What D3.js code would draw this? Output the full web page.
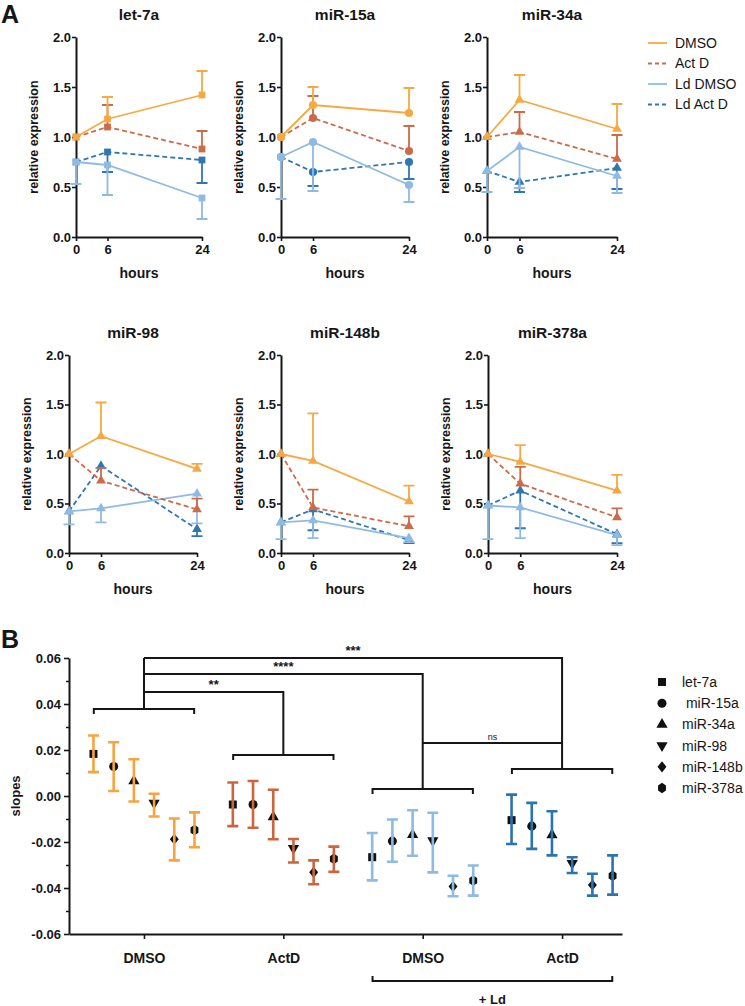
<!DOCTYPE html>
<html><head><meta charset="utf-8">
<script src="https://cdn.jsdelivr.net/npm/d3@7"></script>
<style>body{margin:0;background:#fff} svg{display:block;font-family:"Liberation Sans",Arial,Helvetica,sans-serif}</style>
</head><body><svg id="chart" width="745" height="1006"></svg>
<script>
// ---------------- DATA ----------------
const hours = [0, 6, 24];
const mirnas = ["let-7a", "miR-15a", "miR-34a", "miR-98", "miR-148b", "miR-378a"];
const seriesNames = ["DMSO", "Act D", "Ld DMSO", "Ld Act D"];
const yTicksA = [0, 0.5, 1.0, 1.5, 2.0];

// Panel A means (rows = miRNAs, cols = hours)
const dmsoMean = [[1.00,1.18,1.42],[1.00,1.32,1.24],[1.00,1.37,1.08],[1.00,1.18,0.85],[1.00,0.93,0.52],[1.00,0.92,0.63]];
const dmsoErr  = [[null,1.40,1.66],[null,1.50,1.49],[null,1.62,1.33],[null,1.52,0.90],[null,1.41,0.68],[null,1.09,0.79]];
const actdMean = [[1.00,1.10,0.88],[1.00,1.19,0.86],[1.00,1.05,0.78],[1.00,0.73,0.44],[1.00,0.46,0.27],[1.00,0.70,0.36]];
const actdErr  = [[null,1.32,1.06],[null,1.41,1.11],[null,1.25,1.02],[null,0.86,0.55],[null,0.64,0.37],[null,0.87,0.45]];
const ldDmsoMean = [[0.75,0.72,0.39],[0.80,0.95,0.52],[0.66,0.90,0.61],[0.42,0.45,0.60],[0.31,0.33,0.15],[0.48,0.46,0.18]];
const ldDmsoErr  = [[0.53,0.42,0.18],[0.38,0.46,0.35],[0.45,0.49,0.44],[0.29,0.31,0.30],[0.14,0.15,0.11],[0.14,0.15,0.08]];
const ldActdMean = [[0.75,0.85,0.77],[0.80,0.65,0.75],[0.66,0.55,0.69],[0.42,0.88,0.24],[0.31,0.44,0.13],[0.48,0.63,0.19]];
const ldActdErr  = [[null,0.65,0.54],[null,0.51,0.58],[null,0.45,0.48],[null,null,0.17],[null,0.23,0.10],[null,0.25,0.10]];

// Panel B
const groups = ["DMSO", "ActD", "DMSO", "ActD"];
const yTicksB = [-0.06, -0.04, -0.02, 0.00, 0.02, 0.04, 0.06];
const yMinorB = [-0.05, -0.03, -0.01, 0.01, 0.03, 0.05];
const slopeMean = [
  [0.0183, 0.0128, 0.0065, -0.0030, -0.0188, -0.0148],
  [-0.0037, -0.0037, -0.0091, -0.0227, -0.0332, -0.0273],
  [-0.0266, -0.0196, -0.0168, -0.0194, -0.0393, -0.0368],
  [-0.0105, -0.0131, -0.0170, -0.0292, -0.0387, -0.0347]
];
const slopeLow = [
  [0.0104, 0.0022, -0.0024, -0.0089, -0.0280, -0.0223],
  [-0.0131, -0.0138, -0.0188, -0.0289, -0.0384, -0.0330],
  [-0.0367, -0.0286, -0.0260, -0.0332, -0.0436, -0.0433],
  [-0.0209, -0.0230, -0.0258, -0.0335, -0.0433, -0.0429]
];
const slopeHigh = [
  [0.0263, 0.0234, 0.0160, 0.0010, -0.0098, -0.0071],
  [0.0059, 0.0065, 0.0027, -0.0187, -0.0280, -0.0220],
  [-0.0161, -0.0102, -0.0062, -0.0073, -0.0347, -0.0302],
  [0.0006, -0.0030, -0.0066, -0.0266, -0.0338, -0.0258]
];
const groupBracketLevel = [0.0378, 0.0178, 0.0030, 0.0117];
const comparisonTarget = [1, 2, 3];
const comparisonLevel = [0.0452, 0.0530, 0.0600];
const comparisonLabel = ["**", "****", "***"];
const nsLevel = 0.0230;

// ---------------- STYLE ----------------
const colA = ["#F6A943", "#CC6B47", "#8FBBE2", "#2F77B2"];
const colB = ["#F5A440", "#C9663F", "#8CBBE3", "#2C74AF"];
const ink = "#161616";
const svg = d3.select("#chart");

// ---------------- PANEL A ----------------
svg.append("text").attr("x", 1).attr("y", 23).attr("font-size", 25).attr("font-weight", "bold").attr("fill", ink).text("A");

const layoutA = [
  {L: 76, T: 37, B: 237, W: 126}, {L: 281, T: 37, B: 237, W: 128}, {L: 487, T: 37, B: 237, W: 130},
  {L: 69, T: 355, B: 553, W: 128}, {L: 281, T: 355, B: 553, W: 128}, {L: 488, T: 355, B: 553, W: 129}
];
const symA = [d3.symbolSquare, d3.symbolCircle, d3.symbolTriangle, d3.symbolTriangle, d3.symbolTriangle, d3.symbolTriangle];
const symSizeA = [46, 52, 42, 42, 42, 42];
const means = [dmsoMean, actdMean, ldDmsoMean, ldActdMean];
const errs = [dmsoErr, actdErr, ldDmsoErr, ldActdErr];
const dashes = [null, "5,3", null, "5,3"];
const drawOrder = [3, 2, 1, 0];

mirnas.forEach((m, i) => {
  const lay = layoutA[i];
  const x = d3.scaleLinear().domain([0, 24]).range([lay.L, lay.L + lay.W]);
  const y = d3.scaleLinear().domain([0, 2]).range([lay.B, lay.T]);
  const g = svg.append("g");

  g.append("text").attr("x", (lay.L + lay.L + lay.W) / 2).attr("y", lay.T - 17)
    .attr("text-anchor", "middle").attr("font-size", 15.5).attr("font-weight", "bold").attr("fill", ink).text(m);

  const ya = g.append("g").attr("transform", `translate(${lay.L},0)`)
    .call(d3.axisLeft(y).tickValues(yTicksA).tickFormat(d3.format(".1f")).tickSize(4).tickSizeOuter(0).tickPadding(1));
  const xa = g.append("g").attr("transform", `translate(0,${lay.B})`)
    .call(d3.axisBottom(x).tickValues(hours).tickSize(4).tickSizeOuter(0).tickPadding(4));
  [ya, xa].forEach(a => {
    a.select(".domain").attr("stroke", ink).attr("stroke-width", 2);
    a.selectAll(".tick line").attr("stroke", ink).attr("stroke-width", 1.6);
    a.selectAll(".tick text").attr("font-size", 13).attr("font-weight", "bold").attr("fill", ink).attr("font-family", null);
  });
  g.append("text").attr("transform", `translate(${lay.L - 38},${(lay.T + lay.B) / 2}) rotate(-90)`)
    .attr("text-anchor", "middle").attr("font-size", 12.5).attr("font-weight", "bold").attr("fill", ink).text("relative expression");
  g.append("text").attr("x", x(12)).attr("y", lay.B + 41)
    .attr("text-anchor", "middle").attr("font-size", 14).attr("font-weight", "bold").attr("fill", ink).text("hours");

  drawOrder.forEach(s => {
    const pts = hours.map((h, k) => ({h, v: means[s][i][k], e: errs[s][i][k]}));
    const sg = g.append("g");
    sg.append("path").datum(pts)
      .attr("d", d3.line().x(d => x(d.h)).y(d => y(d.v)))
      .attr("fill", "none").attr("stroke", colA[s]).attr("stroke-width", 1.8)
      .attr("stroke-dasharray", dashes[s]);
    const eb = pts.filter(d => d.e != null);
    sg.selectAll(".eb").data(eb).enter().append("path")
      .attr("d", d => `M${x(d.h)},${y(d.v)}V${y(d.e)}M${x(d.h) - 5.5},${y(d.e)}H${x(d.h) + 5.5}`)
      .attr("fill", "none").attr("stroke", colA[s]).attr("stroke-width", 1.8);
    sg.selectAll(".pt").data(pts).enter().append("path")
      .attr("transform", d => `translate(${x(d.h)},${y(d.v)})`)
      .attr("d", d3.symbol().type(symA[i]).size(symSizeA[i])())
      .attr("fill", colA[s]);
  });
});

// legend A
seriesNames.forEach((n, k) => {
  const yy = 43 + k * 20.5;
  svg.append("line").attr("x1", 648).attr("x2", 667).attr("y1", yy).attr("y2", yy)
    .attr("stroke", colA[k]).attr("stroke-width", 1.8).attr("stroke-dasharray", dashes[k] ? "4,3" : null);
  svg.append("text").attr("x", 675).attr("y", yy).attr("dy", "0.35em").attr("font-size", 14).attr("fill", ink).text(n);
});

// ---------------- PANEL B ----------------
svg.append("text").attr("x", 1).attr("y", 648).attr("font-size", 25).attr("font-weight", "bold").attr("fill", ink).text("B");

const xB = d3.scaleLinear().domain([-0.538, 3.43]).range([69, 622]);
const yB = d3.scaleLinear().domain([-0.06, 0.06]).range([934, 658]);
const off = 0.145;
const half = 0.36;

const gB = svg.append("g");
const yaB = gB.append("g").attr("transform", "translate(69,0)")
  .call(d3.axisLeft(yB).tickValues(yTicksB).tickFormat(d => d.toFixed(2)).tickSize(5).tickSizeOuter(0).tickPadding(3));
gB.append("g").attr("transform", "translate(69,0)")
  .call(d3.axisLeft(yB).tickValues(yMinorB).tickFormat("").tickSize(3).tickSizeOuter(0))
  .call(a => a.select(".domain").remove())
  .selectAll(".tick line").attr("stroke", ink).attr("stroke-width", 1.5);
const xaB = gB.append("g").attr("transform", "translate(0,934)")
  .call(d3.axisBottom(xB).tickValues([0, 1, 2, 3]).tickFormat(d => groups[d]).tickSize(5).tickSizeOuter(0).tickPadding(14));
[yaB, xaB].forEach(a => {
  a.select(".domain").attr("stroke", ink).attr("stroke-width", 2);
  a.selectAll(".tick line").attr("stroke", ink).attr("stroke-width", 1.6);
  a.selectAll(".tick text").attr("font-size", 13).attr("font-weight", "bold").attr("fill", ink).attr("font-family", null);
});
xaB.selectAll(".tick text").attr("font-size", 14);
gB.append("text").attr("transform", `translate(20,${yB(0)}) rotate(-90)`)
  .attr("text-anchor", "middle").attr("font-size", 13).attr("font-weight", "bold").attr("fill", ink).text("slopes");

// +Ld bracket
gB.append("path")
  .attr("d", `M${xB(2 - half)},976V981H${xB(3 + half)}V976`)
  .attr("fill", "none").attr("stroke", ink).attr("stroke-width", 2);
gB.append("text").attr("x", (xB(2 - half) + xB(3 + half)) / 2).attr("y", 1004)
  .attr("text-anchor", "middle").attr("font-size", 13).attr("font-weight", "bold").attr("fill", ink).text("+ Ld");

// markers
const hexagon = {
  draw(ctx, size) {
    const r = Math.sqrt(size / 2.6);
    for (let k = 0; k < 6; k++) {
      const a = -Math.PI / 2 + k * Math.PI / 3;
      const px = Math.cos(a) * r * 0.88, py = Math.sin(a) * r;
      if (k === 0) ctx.moveTo(px, py); else ctx.lineTo(px, py);
    }
    ctx.closePath();
  }
};
const invTriangle = {
  draw(ctx, size) {
    const s = Math.sqrt(size * 4 / Math.sqrt(3));
    const h = s * Math.sqrt(3) / 2;
    ctx.moveTo(0, h * 2 / 3); ctx.lineTo(s / 2, -h / 3); ctx.lineTo(-s / 2, -h / 3); ctx.closePath();
  }
};
const wideDiamond = {
  draw(ctx, size) {
    const h = Math.sqrt(size / 1.6);
    const w = h * 0.8;
    ctx.moveTo(0, -h); ctx.lineTo(w, 0); ctx.lineTo(0, h); ctx.lineTo(-w, 0); ctx.closePath();
  }
};
const symB = [d3.symbolSquare, d3.symbolCircle, d3.symbolTriangle, invTriangle, wideDiamond, hexagon];
const symSizeB = [64, 64, 55, 55, 50, 70];

// brackets & comparisons
const bk = gB.append("g").attr("fill", "none").attr("stroke", ink).attr("stroke-width", 2);
groupBracketLevel.forEach((lv, gi) => {
  bk.append("path").attr("d",
    `M${xB(gi - half)},${yB(lv) + 5}V${yB(lv)}H${xB(gi + half)}V${yB(lv) + 5}`);
});
bk.append("path").attr("d", `M${xB(0)},${yB(groupBracketLevel[0])}V${yB(d3.max(comparisonLevel))}`);
comparisonTarget.forEach((t, c) => {
  const lv = comparisonLevel[c];
  bk.append("path").attr("d", `M${xB(0)},${yB(lv)}H${xB(t)}V${yB(groupBracketLevel[t])}`);
  gB.append("text").attr("x", (xB(0) + xB(t)) / 2).attr("y", yB(lv) - 3)
    .attr("text-anchor", "middle").attr("font-size", 13).attr("font-weight", "bold").attr("fill", ink).text(comparisonLabel[c]);
});
bk.append("path").attr("d", `M${xB(2)},${yB(nsLevel)}H${xB(3)}`);
gB.append("text").attr("x", (xB(2) + xB(3)) / 2).attr("y", yB(nsLevel) - 3)
  .attr("text-anchor", "middle").attr("font-size", 9).attr("fill", ink).text("ns");

// points + error bars
groups.forEach((gname, gi) => {
  mirnas.forEach((m, j) => {
    const cx = xB(gi + (j - 2.5) * off);
    gB.append("path").attr("transform", `translate(${cx},${yB(slopeMean[gi][j])})`)
      .attr("d", d3.symbol().type(symB[j]).size(symSizeB[j])()).attr("fill", "#111");
    const lo = yB(slopeLow[gi][j]), hi = yB(slopeHigh[gi][j]);
    gB.append("path")
      .attr("d", `M${cx},${lo}V${hi}M${cx - 5.5},${lo}H${cx + 5.5}M${cx - 5.5},${hi}H${cx + 5.5}`)
      .attr("fill", "none").attr("stroke", colB[gi]).attr("stroke-width", 2.6);
  });
});

// legend B
mirnas.forEach((m, j) => {
  const yy = 682 + j * 21.2;
  svg.append("path").attr("transform", `translate(662,${yy})`)
    .attr("d", d3.symbol().type(symB[j]).size(symSizeB[j])()).attr("fill", "#111");
  svg.append("text").attr("x", 682).attr("y", yy).attr("dy", "0.35em").attr("font-size", 14).attr("fill", ink)
    .attr("xml:space", "preserve").style("white-space", "pre").text(j === 1 ? " " + m : m);
});
</script></body></html>
